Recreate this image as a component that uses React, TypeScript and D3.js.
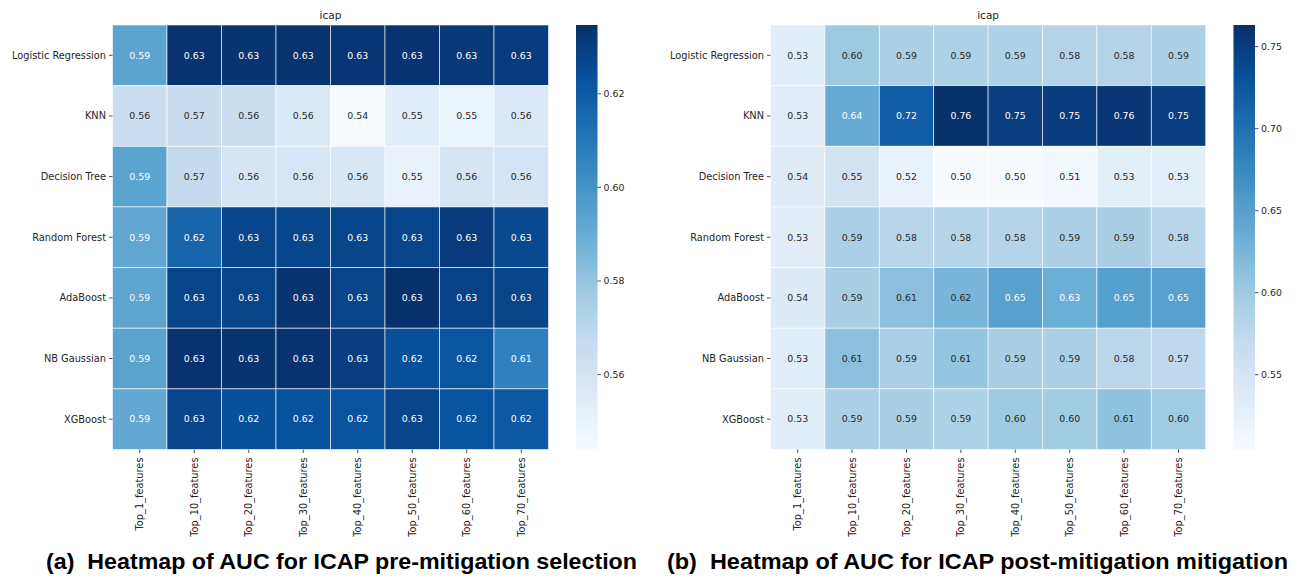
import React from "react";
import * as d3 from "d3";

// Row and column labels shared by both heatmaps
const models = [
  "Logistic Regression",
  "KNN",
  "Decision Tree",
  "Random Forest",
  "AdaBoost",
  "NB Gaussian",
  "XGBoost",
];
const featureSets = [
  "Top_1_features",
  "Top_10_features",
  "Top_20_features",
  "Top_30_features",
  "Top_40_features",
  "Top_50_features",
  "Top_60_features",
  "Top_70_features",
];

// AUC before mitigation (rows follow `models`, columns follow `featureSets`)
const aucPre: number[][] = [
  [0.5935, 0.6335, 0.6332, 0.6338, 0.6325, 0.6335, 0.6312, 0.6308],
  [0.5645, 0.5655, 0.5646, 0.5578, 0.544, 0.5538, 0.5495, 0.5568],
  [0.5935, 0.5672, 0.5594, 0.5592, 0.5585, 0.5505, 0.5598, 0.56],
  [0.592, 0.6166, 0.6275, 0.6272, 0.6275, 0.6278, 0.631, 0.6262],
  [0.593, 0.628, 0.628, 0.633, 0.628, 0.6347, 0.6285, 0.628],
  [0.594, 0.6335, 0.633, 0.6335, 0.63, 0.6238, 0.622, 0.607],
  [0.5918, 0.6275, 0.6238, 0.6235, 0.623, 0.628, 0.6225, 0.621],
];

// AUC after mitigation
const aucPost: number[][] = [
  [0.533, 0.6015, 0.59, 0.589, 0.589, 0.584, 0.584, 0.59],
  [0.532, 0.638, 0.7185, 0.7632, 0.75, 0.751, 0.758, 0.75],
  [0.536, 0.553, 0.522, 0.5044, 0.5046, 0.5095, 0.531, 0.531],
  [0.532, 0.591, 0.58, 0.582, 0.582, 0.59, 0.592, 0.58],
  [0.538, 0.592, 0.613, 0.624, 0.649, 0.634, 0.65, 0.649],
  [0.533, 0.613, 0.591, 0.607, 0.592, 0.59, 0.579, 0.574],
  [0.533, 0.591, 0.592, 0.589, 0.601, 0.598, 0.61, 0.6],
];

// Colorbar tick values
const preTicks = [0.56, 0.58, 0.6, 0.62];
const postTicks = [0.55, 0.6, 0.65, 0.7, 0.75];

const titleText = "icap";
const captionA = "(a)  Heatmap of AUC for ICAP pre-mitigation selection";
const captionB = "(b)  Heatmap of AUC for ICAP post-mitigation mitigation";

// Sequential "Blues" palette (ColorBrewer, 9 classes)
const BLUES = [
  "#f7fbff",
  "#deebf7",
  "#c6dbef",
  "#9ecae1",
  "#6baed6",
  "#4292c6",
  "#2171b5",
  "#08519c",
  "#08306b",
];

const FONT = "'DejaVu Sans', sans-serif";
const DARK = "#262626";
const LABEL_SIZE = 9.8;
const NUM_SIZE = 9.4;

function luminance(c: string): number {
  const rgb = d3.rgb(c);
  const lin = (v: number) => {
    const s = v / 255;
    return s <= 0.03928 ? s / 12.92 : Math.pow((s + 0.055) / 1.055, 2.4);
  };
  return 0.2126 * lin(rgb.r) + 0.7152 * lin(rgb.g) + 0.0722 * lin(rgb.b);
}

type PanelProps = {
  data: number[][];
  ticks: number[];
  left: number;
  right: number;
  top: number;
  bottom: number;
  cbLeft: number;
  cbWidth: number;
};

function Heatmap({ data, ticks, left, right, top, bottom, cbLeft, cbWidth }: PanelProps) {
  const flat = data.flat();
  const vmin = d3.min(flat) as number;
  const vmax = d3.max(flat) as number;

  const color = d3
    .scaleLinear<string>()
    .domain(BLUES.map((_, i) => vmin + (i / (BLUES.length - 1)) * (vmax - vmin)))
    .range(BLUES)
    .interpolate(d3.interpolateRgb)
    .clamp(true);

  const x = d3.scaleBand<string>().domain(featureSets).range([left, right]);
  const y = d3.scaleBand<string>().domain(models).range([top, bottom]);
  const cb = d3.scaleLinear().domain([vmin, vmax]).range([bottom, top]);
  const fmt = d3.format(".2f");

  const steps = d3.range(0, Math.ceil(bottom - top));

  return (
    <g>
      <text
        x={(left + right) / 2}
        y={top - 6}
        textAnchor="middle"
        fontFamily={FONT}
        fontSize={10.5}
        fill={DARK}
      >
        {titleText}
      </text>

      {data.map((row, ri) =>
        row.map((v, ci) => {
          const fill = color(v);
          const xx = x(featureSets[ci]) as number;
          const yy = y(models[ri]) as number;
          return (
            <g key={`${ri}-${ci}`}>
              <rect
                x={xx}
                y={yy}
                width={x.bandwidth()}
                height={y.bandwidth()}
                fill={fill}
                stroke="#ffffff"
                strokeOpacity={0.75}
                strokeWidth={0.8}
              />
              <text
                x={xx + x.bandwidth() / 2}
                y={yy + y.bandwidth() / 2}
                dy="0.35em"
                textAnchor="middle"
                fontFamily={FONT}
                fontSize={NUM_SIZE}
                fill={luminance(fill) > 0.408 ? DARK : "#ffffff"}
              >
                {fmt(v)}
              </text>
            </g>
          );
        })
      )}

      {/* y axis */}
      {models.map((m) => {
        const cy = (y(m) as number) + y.bandwidth() / 2;
        return (
          <g key={m}>
            <line x1={left - 3.5} x2={left} y1={cy} y2={cy} stroke={DARK} strokeWidth={0.8} />
            <text
              x={left - 6.5}
              y={cy}
              dy="0.35em"
              textAnchor="end"
              fontFamily={FONT}
              fontSize={LABEL_SIZE}
              fill={DARK}
            >
              {m}
            </text>
          </g>
        );
      })}

      {/* x axis */}
      {featureSets.map((f) => {
        const cx = (x(f) as number) + x.bandwidth() / 2;
        return (
          <g key={f}>
            <line x1={cx} x2={cx} y1={bottom} y2={bottom + 3.5} stroke={DARK} strokeWidth={0.8} />
            <text
              transform={`translate(${cx},${bottom + 8}) rotate(-90)`}
              dy="0.35em"
              textAnchor="end"
              fontFamily={FONT}
              fontSize={LABEL_SIZE}
              fill={DARK}
            >
              {f}
            </text>
          </g>
        );
      })}

      {/* colorbar */}
      {steps.map((s) => {
        const yy = top + s;
        const v = cb.invert(yy + 0.5);
        return (
          <rect key={s} x={cbLeft} y={yy} width={cbWidth} height={1.05} fill={color(v)} />
        );
      })}
      {ticks.map((t) => {
        const ty = cb(t);
        return (
          <g key={t}>
            <line
              x1={cbLeft + cbWidth}
              x2={cbLeft + cbWidth + 3.5}
              y1={ty}
              y2={ty}
              stroke={DARK}
              strokeWidth={0.8}
            />
            <text
              x={cbLeft + cbWidth + 6}
              y={ty}
              dy="0.35em"
              fontFamily={FONT}
              fontSize={NUM_SIZE}
              fill={DARK}
            >
              {fmt(t)}
            </text>
          </g>
        );
      })}
    </g>
  );
}

export default function App() {
  const captionStyle = { whiteSpace: "pre" as const };
  return (
    <svg
      width={1300}
      height={579}
      viewBox="0 0 1300 579"
      style={{ position: "absolute", left: 0, top: 0, background: "#ffffff" }}
    >
      <rect width={1300} height={579} fill="#ffffff" />
      <Heatmap
        data={aucPre}
        ticks={preTicks}
        left={112.5}
        right={548.5}
        top={25}
        bottom={449.5}
        cbLeft={576}
        cbWidth={21.5}
      />
      <Heatmap
        data={aucPost}
        ticks={postTicks}
        left={770.5}
        right={1205.7}
        top={25}
        bottom={449.5}
        cbLeft={1233.5}
        cbWidth={21.5}
      />
      <text
        x={46}
        y={569}
        textLength={591}
        lengthAdjust="spacingAndGlyphs"
        fontFamily="'Liberation Sans', Arial, sans-serif"
        fontWeight="bold"
        fontSize={22}
        fill="#000000"
        style={captionStyle}
      >
        {captionA}
      </text>
      <text
        x={667}
        y={569}
        textLength={621}
        lengthAdjust="spacingAndGlyphs"
        fontFamily="'Liberation Sans', Arial, sans-serif"
        fontWeight="bold"
        fontSize={22}
        fill="#000000"
        style={captionStyle}
      >
        {captionB}
      </text>
    </svg>
  );
}
